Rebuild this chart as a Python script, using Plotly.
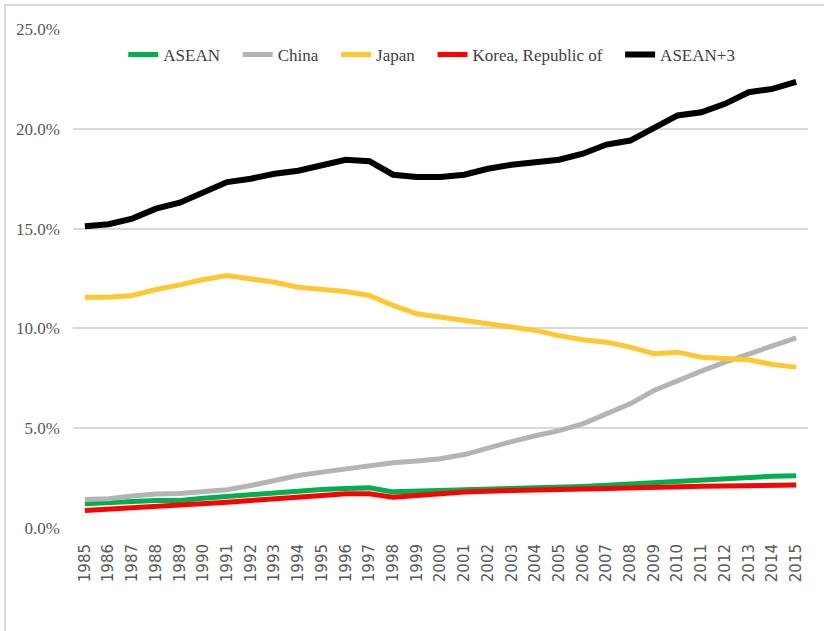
import plotly.graph_objects as go

years = [str(y) for y in range(1985, 2016)]

asean = [1.22, 1.25, 1.33, 1.38, 1.38, 1.49, 1.58, 1.68, 1.78, 1.84, 1.93, 1.98, 2.01, 1.81, 1.84,
         1.85, 1.88, 1.92, 1.95, 1.99, 2.02, 2.08, 2.14, 2.21, 2.28, 2.35, 2.41, 2.47, 2.53, 2.59, 2.62]
china = [1.43, 1.47, 1.6, 1.7, 1.73, 1.8, 1.92, 2.13, 2.39, 2.63, 2.8, 2.97, 3.1, 3.27, 3.36,
         3.47, 3.68, 4.02, 4.33, 4.62, 4.88, 5.22, 5.72, 6.22, 6.89, 7.39, 7.86, 8.31, 8.73, 9.1, 9.53]
japan = [11.56, 11.56, 11.65, 11.95, 12.18, 12.45, 12.65, 12.48, 12.31, 12.06, 11.98, 11.85, 11.65, 11.15, 10.73,
         10.56, 10.36, 10.2, 10.06, 9.9, 9.64, 9.43, 9.31, 9.06, 8.73, 8.81, 8.56, 8.48, 8.43, 8.19, 8.06]
korea = [0.88, 0.95, 1.02, 1.08, 1.1, 1.18, 1.29, 1.38, 1.45, 1.5, 1.63, 1.71, 1.71, 1.54, 1.65,
         1.72, 1.8, 1.86, 1.88, 1.9, 1.9, 1.95, 1.98, 2.02, 2.04, 2.07, 2.09, 2.1, 2.13, 2.15, 2.16]
asean3 = [15.12, 15.22, 15.5, 16.0, 16.3, 16.8, 17.33, 17.5, 17.75, 17.9, 18.15, 18.45, 18.38, 17.7, 17.58,
          17.58, 17.7, 18.0, 18.2, 18.3, 18.45, 18.75, 19.21, 19.41, 20.05, 20.67, 20.83, 21.25, 21.83, 22.0, 22.35]

series = [
    ("ASEAN", asean, "#00B050", 5),
    ("China", china, "#B4B4B4", 5),
    ("Japan", japan, "#FFC833", 5),
    ("Korea, Republic of", korea, "#FF0000", 5),
    ("ASEAN+3", asean3, "#000000", 6),
]

SERIF = "Liberation Serif, Times New Roman, serif"
PAD = "\u00a0\u00a0\u00a0"  # Abstand zwischen Legendeneinträgen

fig = go.Figure()
for name, vals, color, w in series:
    fig.add_trace(go.Scatter(
        x=years, y=[v / 100 for v in vals], mode="lines", name=name + PAD,
        line=dict(color=color, width=w),
    ))

# Rahmen um das ganze Diagramm (rechts und unten abgeschnitten)
fig.add_shape(
    type="rect", xref="paper", yref="paper",
    x0=-0.0925, x1=1.04, y0=-0.25, y1=1.048,
    line=dict(color="#D9D9D9", width=2), fillcolor="rgba(0,0,0,0)",
    layer="above",
)

fig.update_layout(
    width=824, height=631,
    margin=dict(l=73, r=16, t=29, b=103),
    plot_bgcolor="white", paper_bgcolor="white",
    showlegend=True,
    legend=dict(
        orientation="h", x=0.497, xanchor="center", y=0.948, yanchor="middle",
        font=dict(family=SERIF, size=17, color="#404040"),
        bgcolor="rgba(0,0,0,0)", itemwidth=30,
    ),
    xaxis=dict(
        type="category", range=[-0.5, 30.5], tickangle=-90,
        tickfont=dict(family="DejaVu Sans", size=15, color="#595959"),
        showgrid=False, showline=False, ticks="", zeroline=False,
        ticklabelstandoff=12,
    ),
    yaxis=dict(
        range=[0, 0.25], dtick=0.05, tickformat=".1%",
        tickfont=dict(family=SERIF, size=17, color="#595959"),
        showgrid=True, gridcolor="#D9D9D9", gridwidth=1.5,
        zeroline=False, showline=False, ticks="",
        ticklabelstandoff=12,
    ),
)

fig.write_html(
    "out.html",
    config={"displayModeBar": False},
    post_script="document.body.style.margin = '0';",
)
